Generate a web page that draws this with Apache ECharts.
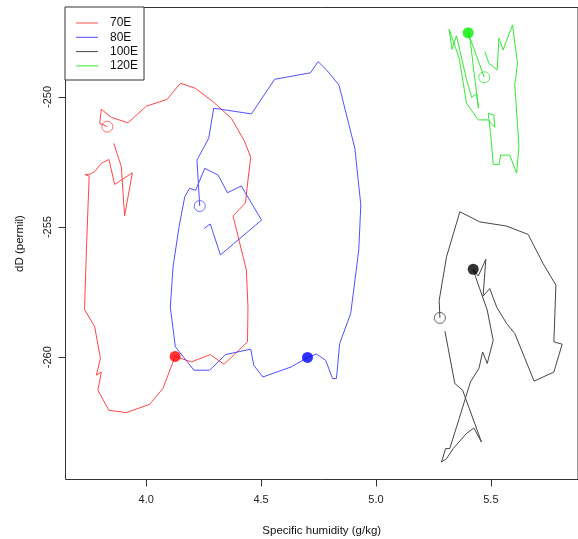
<!DOCTYPE html>
<html>
<head>
<meta charset="utf-8">
<script src="https://cdn.jsdelivr.net/npm/echarts@6/dist/echarts.min.js"></script>
<style>
html,body{margin:0;padding:0;background:#fff;}
#chart{width:578px;height:539px;}
</style>
</head>
<body>
<div id="chart"></div>
<script>
// ---- data (specific humidity g/kg, dD permil) ----
const seriesNames = ['70E', '80E', '100E', '120E'];

const x70 = [3.831, 3.798, 3.805, 3.848, 3.921, 4.001, 4.091, 4.149, 4.215, 4.291, 4.371, 4.429, 4.455, 4.443, 4.432, 4.378, 4.436, 4.443, 4.441, 4.339, 4.279, 4.197, 4.126, 4.073, 4.015, 3.914, 3.838, 3.790, 3.805, 3.783, 3.801, 3.776, 3.732, 3.740, 3.752, 3.734, 3.757, 3.776, 3.805, 3.838, 3.863, 3.940, 3.906, 3.892, 3.859];
const y70 = [-251.14, -251.01, -250.47, -250.78, -250.99, -250.35, -250.09, -249.47, -249.67, -250.18, -250.82, -251.72, -252.32, -253.19, -254.07, -254.57, -256.65, -258.07, -259.41, -260.27, -259.90, -260.18, -259.97, -261.20, -261.81, -262.13, -262.04, -261.27, -260.57, -260.69, -260.05, -258.83, -258.17, -255.88, -253.04, -252.98, -252.96, -252.87, -252.55, -252.40, -253.36, -252.91, -254.57, -252.68, -251.78];
const dot70 = 22;

const x80 = [4.233, 4.221, 4.272, 4.294, 4.458, 4.559, 4.715, 4.748, 4.785, 4.839, 4.908, 4.934, 4.925, 4.890, 4.842, 4.828, 4.811, 4.781, 4.741, 4.702, 4.632, 4.508, 4.468, 4.455, 4.345, 4.320, 4.276, 4.208, 4.127, 4.105, 4.117, 4.143, 4.168, 4.189, 4.215, 4.255, 4.313, 4.354, 4.414, 4.502, 4.323, 4.279, 4.252];
const y80 = [-254.19, -252.42, -251.59, -250.43, -250.65, -249.32, -249.07, -248.64, -248.96, -249.54, -251.97, -254.15, -255.88, -258.32, -259.47, -260.82, -260.82, -260.12, -259.88, -260.01, -260.37, -260.76, -260.31, -259.69, -259.90, -260.12, -260.50, -260.50, -259.60, -258.07, -256.53, -254.99, -253.83, -253.51, -253.59, -252.74, -253.00, -253.68, -253.42, -254.73, -256.07, -254.88, -255.05];
const dot80 = 19;

const x100 = [5.278, 5.275, 5.307, 5.365, 5.452, 5.568, 5.662, 5.727, 5.783, 5.774, 5.810, 5.774, 5.688, 5.604, 5.568, 5.525, 5.495, 5.466, 5.478, 5.445, 5.423, 5.434, 5.484, 5.510, 5.484, 5.464, 5.448, 5.411, 5.362, 5.321, 5.303, 5.285, 5.307, 5.336, 5.394, 5.426, 5.459, 5.377, 5.343, 5.300];
const y100 = [-258.49, -257.81, -256.14, -254.41, -254.80, -254.96, -255.28, -256.40, -257.23, -259.41, -259.50, -260.57, -260.92, -259.09, -258.70, -258.07, -257.36, -257.65, -256.24, -256.88, -256.62, -256.93, -258.19, -259.35, -260.24, -259.80, -260.43, -260.95, -262.36, -263.51, -263.51, -264.03, -263.90, -263.51, -262.93, -262.72, -263.26, -261.27, -261.01, -259.00];
const dot100 = 20;

const x120 = [5.471, 5.401, 5.411, 5.426, 5.446, 5.438, 5.416, 5.394, 5.350, 5.331, 5.318, 5.362, 5.394, 5.445, 5.488, 5.517, 5.513, 5.488, 5.498, 5.510, 5.536, 5.542, 5.582, 5.612, 5.622, 5.616, 5.604, 5.616, 5.594, 5.553, 5.535, 5.527, 5.491, 5.474];
const y120 = [-249.24, -247.53, -247.87, -249.03, -250.43, -249.88, -250.01, -249.32, -247.65, -248.17, -247.40, -248.51, -250.24, -250.88, -250.88, -251.17, -250.69, -250.63, -251.33, -252.59, -252.59, -252.23, -252.23, -252.93, -251.91, -251.08, -249.54, -248.70, -247.23, -248.19, -247.74, -248.96, -248.70, -248.26];
const dot120 = 1;

const xTicks = [4.0, 4.5, 5.0, 5.5];
const yTicks = [-260, -255, -250];
const xRange = [3.649, 5.879];
const yRange = [-264.70, -246.56];

// ---- styling ----
const lineColors = ['rgb(255,70,70)', 'rgb(80,80,255)', 'rgb(70,70,70)', 'rgb(50,235,50)'];
const dotColors = ['#ff0000', '#0000ff', '#000000', '#00ee00'];
const FONT = '"Liberation Sans", Arial, Helvetica, sans-serif';

const groups = [
  [x70, y70, dot70],
  [x80, y80, dot80],
  [x100, y100, dot100],
  [x120, y120, dot120]
];

const series = [];
groups.forEach((g, k) => {
  const pts = g[0].map((x, i) => [x, g[1][i]]);
  series.push({
    name: seriesNames[k], type: 'line', data: pts,
    symbol: 'none', showSymbol: false, smooth: false,
    lineStyle: { color: lineColors[k], width: 1 },
    itemStyle: { color: lineColors[k] },
    silent: true, z: 2
  });
});
groups.forEach((g, k) => {
  const pts = g[0].map((x, i) => [x, g[1][i]]);
  series.push({
    name: seriesNames[k] + ' start', type: 'scatter', data: [pts[0]],
    symbol: 'circle', symbolSize: 11,
    itemStyle: { color: 'rgba(0,0,0,0)', borderColor: lineColors[k], borderWidth: 1 },
    silent: true, z: 3
  });
  series.push({
    name: seriesNames[k] + ' mark', type: 'scatter', data: [pts[g[2]]],
    symbol: 'circle', symbolSize: 11,
    itemStyle: { color: dotColors[k], borderWidth: 0 },
    silent: true, z: 4
  });
});

const chart = echarts.init(document.getElementById('chart'), null, { renderer: 'canvas' });
chart.setOption({
  animation: false,
  backgroundColor: '#ffffff',
  textStyle: { fontFamily: FONT },
  grid: {
    left: 65.5, right: 0, top: 7.5, bottom: 59.5,
    show: true, borderColor: '#333', borderWidth: 1, backgroundColor: 'rgba(0,0,0,0)',
    containLabel: false, outerBoundsMode: 'none'
  },
  legend: {
    data: seriesNames.map(n => ({ name: n, icon: 'rect' })),
    orient: 'vertical', left: 65, top: 7,
    backgroundColor: '#fff', borderColor: '#333', borderWidth: 1, borderRadius: 0,
    padding: [9.5, 6, 7.6, 11],
    itemGap: 1.3, itemWidth: 22, itemHeight: 1,
    textStyle: { fontFamily: FONT, fontSize: 12, color: '#111', padding: [0, 0, 0, 7], lineHeight: 13 },
    selectedMode: false
  },
  xAxis: {
    type: 'value', min: xRange[0], max: xRange[1],
    name: 'Specific humidity (g/kg)', nameLocation: 'middle', nameGap: 45,
    nameTextStyle: { fontFamily: FONT, fontSize: 11.5, color: '#111' },
    axisLine: { show: false },
    splitLine: { show: false },
    axisTick: { show: true, inside: false, length: 7, customValues: xTicks, lineStyle: { color: '#333' } },
    axisLabel: { show: true, margin: 15, customValues: xTicks, fontSize: 11, color: '#222', fontFamily: FONT,
      formatter: v => Number(v).toFixed(1) }
  },
  yAxis: {
    type: 'value', min: yRange[0], max: yRange[1],
    name: 'dD (permil)', nameLocation: 'middle', nameGap: 40, nameRotate: 90,
    nameTextStyle: { fontFamily: FONT, fontSize: 11.5, color: '#111' },
    axisLine: { show: false },
    splitLine: { show: false },
    axisTick: { show: true, inside: false, length: 7, customValues: yTicks, lineStyle: { color: '#333' } },
    axisLabel: { show: true, margin: 12, rotate: 90, customValues: yTicks, fontSize: 11, color: '#222', fontFamily: FONT,
      formatter: v => String(Math.round(v)) }
  },
  series: series
});
</script>
</body>
</html>
